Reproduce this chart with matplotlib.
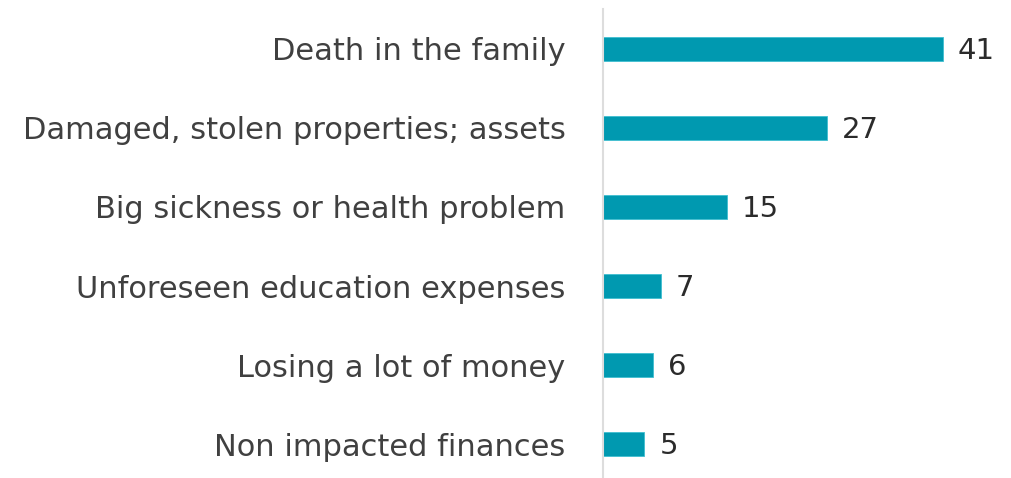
import matplotlib
matplotlib.use("Agg")
from matplotlib import pyplot as plt

categories = [
    "Death in the family",
    "Damaged, stolen properties; assets",
    "Big sickness or health problem",
    "Unforeseen education expenses",
    "Losing a lot of money",
    "Non impacted finances",
]
values = [41, 27, 15, 7, 6, 5]

bar_color = "#0099B0"
text_color = "#404040"

fig = plt.figure(figsize=(10.11, 4.78), dpi=100)
ax = fig.add_axes([603 / 1011, 0.0, (1005 - 603) / 1011, 469 / 478])

y = list(range(len(categories)))
ax.barh(y, values, height=0.30, color=bar_color, edgecolor="#3fbfd0", linewidth=0.6)

for yi, v in zip(y, values):
    ax.text(v + 1.8, yi + 0.03, str(v), va="center", ha="left",
            fontsize=21, color="#2b2b2b")

ax.set_xlim(0, 48.5)
ax.set_ylim(5.43, -0.506)
ax.set_yticks(y)
ax.set_yticklabels(categories, fontsize=22, color=text_color)
ax.tick_params(axis="y", length=0, pad=27)
ax.set_xticks([])

for side in ["top", "right", "bottom"]:
    ax.spines[side].set_visible(False)
ax.spines["left"].set_color("#dddddd")
ax.spines["left"].set_linewidth(1.5)

fig.savefig("out.png", dpi=100)
